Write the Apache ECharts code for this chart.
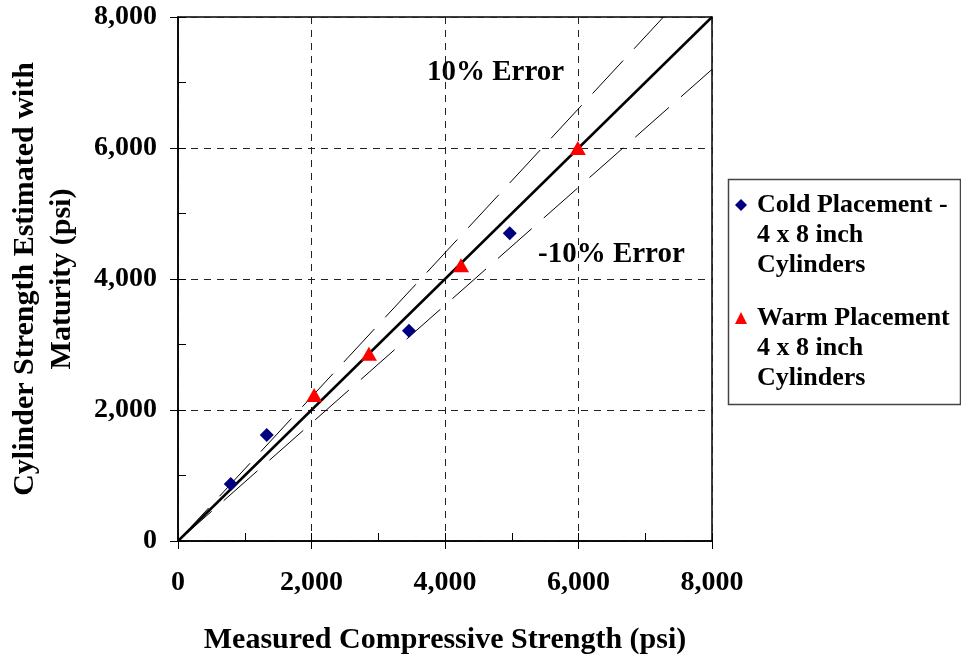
<!DOCTYPE html>
<html>
<head>
<meta charset="utf-8">
<script src="https://cdn.jsdelivr.net/npm/echarts@6/dist/echarts.min.js"></script>
<style>html,body{margin:0;padding:0;background:#fff}#c{width:961px;height:660px}</style>
</head>
<body>
<div id="c"></div>
<script>
// Data
const coldMeasured = [790, 1330, 3460, 4970];
const coldEstimated = [870, 1620, 3210, 4700];
const warmMeasured = [2040, 2860, 4240, 5990];
const warmEstimated = [2230, 2860, 4210, 6000];
const equalityLine = [[0, 0], [8000, 8000]];
const plusTenLine = [[0, 0], [7273, 8000]];
const minusTenLine = [[0, 0], [8000, 7200]];
const xTicks = [0, 2000, 4000, 6000, 8000];
const yTicks = [0, 2000, 4000, 6000, 8000];
const legendNames = ['\n\nCold Placement -\n4 x 8 inch\nCylinders', '\n\nWarm Placement\n4 x 8 inch\nCylinders'];

const FONT = '"Liberation Serif", "Times New Roman", serif';
const fmt = v => v.toLocaleString('en-US');
const gridLine = {show: true, lineStyle: {color: '#222', type: [7, 6], width: 1}};

const chart = echarts.init(document.getElementById('c'), null, {renderer: 'canvas'});
const baseAxis = {
  min: 0, max: 8000, interval: 2000,
  axisLine: {show: true, lineStyle: {color: '#000', width: 1.5}},
  axisTick: {show: true, inside: false, length: 8, lineStyle: {color: '#000'}},
  axisLabel: {fontFamily: FONT, fontWeight: 'bold', fontSize: 28, color: '#000', formatter: fmt},
  splitLine: gridLine
};
const minorAxis = {
  min: 0, max: 8000, interval: 1000,
  axisLine: {show: false},
  axisTick: {show: true, inside: true, length: 8, lineStyle: {color: '#000'}},
  axisLabel: {show: false},
  splitLine: {show: false}
};

chart.setOption({
  animation: false,
  backgroundColor: '#fff',
  grid: {left: 178, right: 249, top: 17, bottom: 119, outerBoundsMode: 'none', containLabel: false,
    show: true, borderColor: '#000', borderWidth: 1.5, backgroundColor: 'transparent'},
  xAxis: [
    Object.assign({}, baseAxis, {
      type: 'value',
      axisLabel: Object.assign({}, baseAxis.axisLabel, {margin: 28}),
      name: 'Measured Compressive Strength (psi)',
      nameLocation: 'middle', nameGap: 84,
      nameTextStyle: {fontFamily: FONT, fontWeight: 'bold', fontSize: 30, color: '#000'}
    }),
    Object.assign({}, minorAxis, {type: 'value', position: 'bottom'})
  ],
  yAxis: [
    Object.assign({}, baseAxis, {
      type: 'value',
      axisLabel: Object.assign({}, baseAxis.axisLabel, {margin: 21}),
      name: 'Cylinder Strength Estimated with\nMaturity (psi)',
      nameLocation: 'middle', nameGap: 97, nameRotate: 90,
      nameTextStyle: {fontFamily: FONT, fontWeight: 'bold', fontSize: 30, color: '#000', lineHeight: 37}
    }),
    Object.assign({}, minorAxis, {type: 'value', position: 'left'})
  ],
  legend: {
    orient: 'vertical', left: 735, top: 130, padding: 0, itemGap: -37,
    itemWidth: 12, itemHeight: 12,
    data: legendNames,
    textStyle: {fontFamily: FONT, fontWeight: 'bold', fontSize: 26, color: '#000', lineHeight: 30, padding: [0, 0, 0, 5]}
  },
  graphic: [
    {type: 'rect', left: 726, top: 177, shape: {width: 232, height: 225}, style: {fill: 'none', stroke: '#444', lineWidth: 1.5}, silent: true},
    {type: 'text', left: 427, top: 58, style: {text: '10% Error', font: 'bold 29px ' + FONT, fill: '#000'}},
    {type: 'text', left: 538, top: 240, style: {text: '-10% Error', font: 'bold 29px ' + FONT, fill: '#000'}}
  ],
  series: [
    {type: 'line', data: equalityLine, symbol: 'none', lineStyle: {color: '#000', width: 2.5}, z: 3},
    {type: 'line', data: plusTenLine, symbol: 'none', lineStyle: {color: '#000', width: 1, type: [45, 16]}, z: 3},
    {type: 'line', data: minusTenLine, symbol: 'none', lineStyle: {color: '#000', width: 1, type: [45, 16]}, z: 3},
    {name: legendNames[0], type: 'scatter', symbol: 'diamond', symbolSize: 14,
      itemStyle: {color: '#000080', opacity: 1}, z: 5,
      data: coldMeasured.map((x, i) => [x, coldEstimated[i]])},
    {name: legendNames[1], type: 'scatter', symbol: 'triangle', symbolSize: [16, 14],
      itemStyle: {color: '#ff0000', opacity: 1}, z: 5,
      data: warmMeasured.map((x, i) => [x, warmEstimated[i]])}
  ]
});
</script>
</body>
</html>
